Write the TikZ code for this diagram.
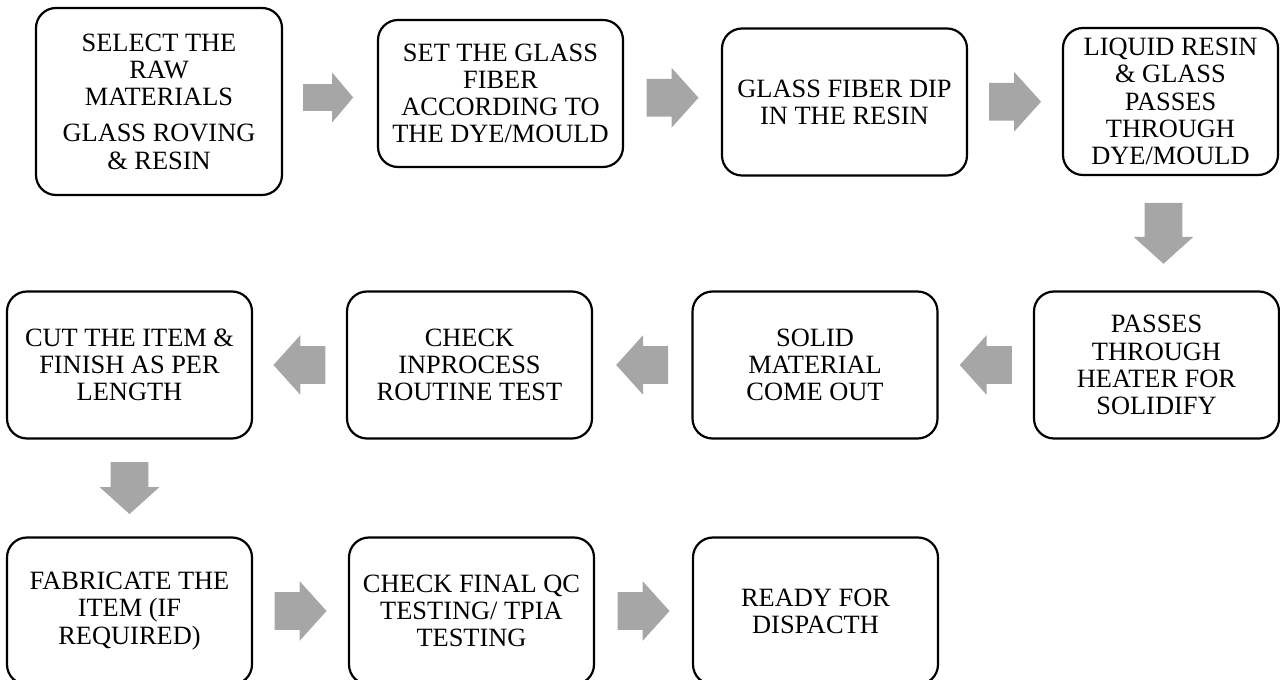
\documentclass[tikz,border=0pt]{standalone}
\usepackage{fontspec}
\setmainfont{Liberation Serif}
\usetikzlibrary{shapes.arrows,calc}
\definecolor{arrowgray}{HTML}{A6A6A6}

\begin{document}
\begin{tikzpicture}[x=0.5pt,y=0.5pt,
  stepbox/.style={draw,rounded corners=10pt,line width=1.1pt,align=center,
    minimum width=122.5pt,minimum height=73.5pt,inner sep=2pt,
    font=\fontsize{13.2}{13.6}\selectfont},
  fatarrow/.style={single arrow,fill=arrowgray,draw=none,inner xsep=0pt,inner ysep=9.25pt,
    minimum height=26pt,single arrow head extend=5.5pt,single arrow tip angle=96},
  rarrow/.style={fatarrow,xshift=-4.25pt},
  larrow/.style={fatarrow,xshift=4.25pt,shape border rotate=180},
  darrow/.style={fatarrow,yshift=4.25pt,rotate=-90}]
\useasboundingbox (0,0) rectangle (1280,680);

\node[stepbox,minimum width=123pt,minimum height=93.5pt] (raw) at (159,578.5)
  {SELECT THE\\RAW\\MATERIALS\\[4.5pt]GLASS ROVING\\\& RESIN};
\node[stepbox] (fiber) at (500.5,586.5) {SET THE GLASS\\FIBER\\ACCORDING TO\\THE DYE/MOULD};
\node[stepbox] (dip) at (844.5,578) {GLASS FIBER DIP\\IN THE RESIN};
\node[stepbox,minimum width=107.5pt] (liquid) at (1170.5,578.5)
  {LIQUID RESIN\\\& GLASS\\PASSES\\THROUGH\\DYE/MOULD};

\node[stepbox] (heater) at (1156.5,315) {PASSES\\THROUGH\\HEATER FOR\\SOLIDIFY};
\node[stepbox] (solid) at (815,315) {SOLID\\MATERIAL\\COME OUT};
\node[stepbox] (inprocess) at (469.5,315) {CHECK\\INPROCESS\\ROUTINE TEST};
\node[stepbox] (cut) at (129.5,315) {CUT THE ITEM \&\\FINISH AS PER\\LENGTH};

\node[stepbox] (fabricate) at (129.5,69) {FABRICATE THE\\ITEM (IF\\REQUIRED)};
\node[stepbox] (finalqc) at (471.5,69) {CHECK FINAL QC\\TESTING/ TPIA\\TESTING};
\node[stepbox] (dispatch) at (815.5,69) {READY FOR\\DISPACTH};

\node[fatarrow,xshift=-3.75pt,inner ysep=6.5pt,minimum height=25pt,single arrow head extend=5.75pt,single arrow tip angle=100]
  (a1) at ($(raw.east)!0.5!(fiber.west)$) {};
\node[rarrow] (a2) at ($(fiber.east)!0.5!(dip.west)$) {};
\node[rarrow] (a3) at ($(dip.east)!0.5!(liquid.west)$) {};
\node[darrow,minimum height=30.5pt] (a4) at ($(liquid.south)!0.5!(heater.north)$) {};
\node[larrow] (a5) at ($(heater.west)!0.5!(solid.east)$) {};
\node[larrow] (a6) at ($(solid.west)!0.5!(inprocess.east)$) {};
\node[larrow] (a7) at ($(inprocess.west)!0.5!(cut.east)$) {};
\node[darrow] (a8) at ($(cut.south)!0.5!(fabricate.north)$) {};
\node[rarrow] (a9) at ($(fabricate.east)!0.5!(finalqc.west)$) {};
\node[rarrow] (a10) at ($(finalqc.east)!0.5!(dispatch.west)$) {};
\end{tikzpicture}
\end{document}
